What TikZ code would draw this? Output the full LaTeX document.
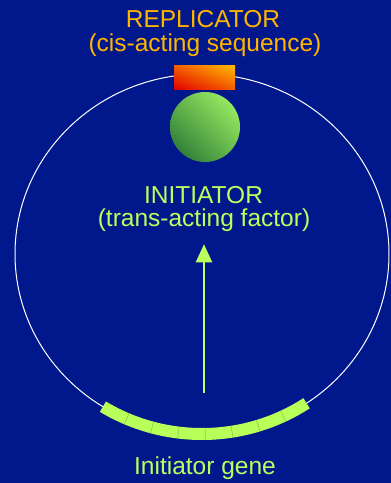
\documentclass[tikz,border=0pt]{standalone}
\usepackage{fontspec}
\setmainfont{Liberation Sans}
\usetikzlibrary{arrows.meta,calc,shadings}

\definecolor{bgblue}{RGB}{0,24,140}
\definecolor{repgold}{RGB}{255,180,0}
\definecolor{initgreen}{RGB}{188,255,92}
\definecolor{genegreen}{RGB}{184,255,90}
\definecolor{divgreen}{RGB}{140,200,80}
\definecolor{repred}{RGB}{225,0,0}
\definecolor{reporange}{RGB}{245,95,0}
\definecolor{repyellow}{RGB}{255,190,0}
\definecolor{balldark}{RGB}{30,105,50}
\definecolor{ballmid}{RGB}{100,185,75}
\definecolor{balllight}{RGB}{170,250,105}

\tikzset{
  labeltext/.style={font=\fontsize{24.5}{28}\selectfont, anchor=base, inner sep=0pt},
  replabel/.style={labeltext, text=repgold},
  initlabel/.style={labeltext, text=initgreen},
}

\begin{document}
\begin{tikzpicture}[x=1pt,y=-1pt,>=Latex]
  \fill[bgblue] (0,0) rectangle (391,483);
  \useasboundingbox (0,0) rectangle (391,483);

  % the chromosome
  \coordinate (ctr) at (202,254);
  \draw[white, line width=1pt] (ctr) ellipse [x radius=187, y radius=180];

  % initiator gene on the chromosome
  \draw[genegreen, line width=12pt] ($(ctr)+(56:187 and 180)$)
    arc[start angle=56, end angle=122, x radius=187, y radius=180];
  \foreach \a in {64.25,72.5,...,113.75}
    \draw[divgreen, line width=0.6pt] ($(ctr)+(\a:181 and 174)$) -- ($(ctr)+(\a:193 and 186)$);

  % replicator and initiator protein
  \node[rectangle, minimum width=61, minimum height=24, inner sep=0pt,
        lower left=repred, upper right=repyellow, upper left=reporange, lower right=reporange]
        (replicatorbox) at (204.5,77) {};
  \node[circle, minimum size=70, inner sep=0pt,
        lower left=balldark, upper right=balllight, upper left=ballmid, lower right=ballmid]
        (initball) at (205,127) {};

  % labels
  \node[replabel] (replicator) at (203,27) {REPLICATOR};
  \node[replabel] (cisacting) at (205,51) {(cis-acting sequence)};
  \node[initlabel] (initiator) at (203.5,203) {INITIATOR};
  \node[initlabel] (factor) at (204,226) {(trans-acting factor)};
  \node[initlabel] (genelabel) at (205,474) {Initiator gene};

  % gene product
  \coordinate (arrowfoot) at (204,393);
  \draw[-{Triangle[width=16pt,length=18pt]}, initgreen, line width=2pt]
    (arrowfoot) -- ([yshift=-13pt]factor.south);
\end{tikzpicture}
\end{document}
